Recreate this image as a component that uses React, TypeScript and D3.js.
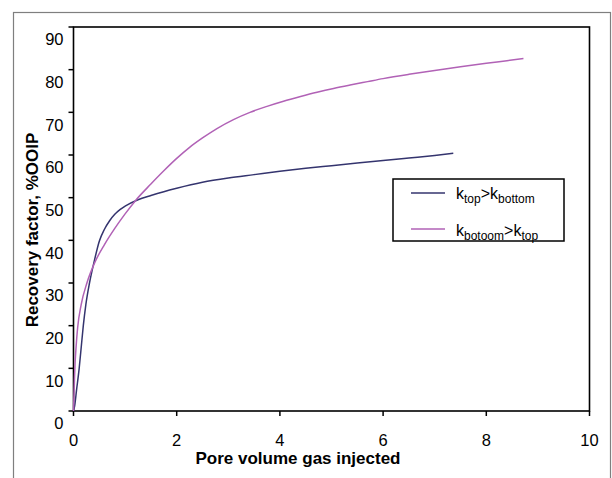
import React from 'react';
import * as d3 from 'd3';

// ---- data ----
const xTickValues = [0, 2, 4, 6, 8, 10];
const yTickValues = [0, 10, 20, 30, 40, 50, 60, 70, 80, 90];

const topPV = [0, 0.02, 0.06, 0.11, 0.15, 0.19, 0.24, 0.31, 0.4, 0.5, 0.6, 0.7, 0.8, 0.9, 1.0, 1.25, 1.5, 1.75, 2.0, 2.5, 3.0, 3.5, 4.0, 4.5, 5.0, 5.5, 6.0, 6.5, 7.0, 7.36];
const topRF = [0, 1, 5, 10, 15, 20, 25, 30, 35, 39.8, 42.6, 44.6, 46.1, 47.2, 48.0, 49.5, 50.5, 51.4, 52.2, 53.6, 54.6, 55.4, 56.2, 56.9, 57.5, 58.1, 58.7, 59.3, 59.9, 60.4];

const botPV = [0, 0.01, 0.02, 0.03, 0.05, 0.08, 0.15, 0.26, 0.42, 0.6, 0.8, 1.0, 1.2, 1.5, 1.75, 2.0, 2.25, 2.5, 2.78, 3.1, 3.42, 3.75, 4.07, 4.4, 4.72, 5.04, 5.36, 5.7, 6.0, 6.5, 7.0, 7.5, 8.0, 8.4, 8.72];
const botRF = [0, 4, 8, 11, 15, 19.5, 25, 30, 35, 39, 42.8, 46.2, 49.3, 53.2, 56.3, 59.2, 61.8, 64.0, 66.2, 68.3, 70.0, 71.4, 72.6, 73.7, 74.7, 75.6, 76.4, 77.2, 77.9, 78.9, 79.8, 80.7, 81.5, 82.1, 82.6];

const xTitle = 'Pore volume gas injected';
const yTitle = 'Recovery factor, %OOIP';

const colorTop = '#34346e';
const colorBot = '#b162b6';

export default function App() {
  const W = 612, H = 478;
  const L = 73.5, R = 589.5, T = 27, B = 411;
  const x = d3.scaleLinear().domain([0, 10]).range([L, R]);
  const y = d3.scaleLinear().domain([0, 90]).range([B, T]);
  const line = d3
    .line<[number, number]>()
    .x((d) => x(d[0]))
    .y((d) => y(d[1]))
    .curve(d3.curveMonotoneX);
  const topData = topPV.map((v, i) => [v, topRF[i]] as [number, number]);
  const botData = botPV.map((v, i) => [v, botRF[i]] as [number, number]);
  const font = 'Liberation Sans, Arial, Helvetica, sans-serif';

  return (
    <svg width={W} height={H} style={{ position: 'absolute', left: 0, top: 0, background: '#fff' }} fontFamily={font}>
      <rect x={0} y={0} width={W} height={H} fill="#fff" />
      {/* outer chart frame */}
      <rect x={13.5} y={12.5} width={597} height={520} fill="none" stroke="#7f7f7f" strokeWidth={1.2} />
      {/* plot area border */}
      <rect x={L} y={T} width={R - L} height={B - T} fill="none" stroke="#000" strokeWidth={1.6} />
      {/* y ticks */}
      {yTickValues.map((v) => (
        <g key={'y' + v}>
          <line x1={L - 5} x2={L} y1={y(v)} y2={y(v)} stroke="#000" strokeWidth={1.5} />
          <text x={63.5} y={y(v) + 12.5} dy="0.35em" textAnchor="end" fontSize={16.5} fill="#000">
            {v}
          </text>
        </g>
      ))}
      {/* x ticks */}
      {xTickValues.map((v) => (
        <g key={'x' + v}>
          <line x1={x(v)} x2={x(v)} y1={B} y2={B + 5} stroke="#000" strokeWidth={1.5} />
          <text x={x(v)} y={440.5} dy="0.35em" textAnchor="middle" fontSize={16.5} fill="#000">
            {v}
          </text>
        </g>
      ))}
      {/* series */}
      <path d={line(topData) || ''} fill="none" stroke={colorTop} strokeWidth={1.5} />
      <path d={line(botData) || ''} fill="none" stroke={colorBot} strokeWidth={1.5} />
      {/* axis titles */}
      <text x={298} y={458} dy="0.35em" textAnchor="middle" fontSize={17} fontWeight="bold" fill="#000">
        {xTitle}
      </text>
      <text
        transform={`translate(32,230) rotate(-90)`}
        dy="0.35em"
        textAnchor="middle"
        fontSize={17}
        fontWeight="bold"
        fill="#000"
      >
        {yTitle}
      </text>
      {/* legend */}
      <rect x={393} y={179} width={171} height={62} fill="#fff" stroke="#000" strokeWidth={1.5} />
      <line x1={411} x2={445} y1={193} y2={193} stroke={colorTop} strokeWidth={1.5} />
      <line x1={411} x2={445} y1={229} y2={229} stroke={colorBot} strokeWidth={1.5} />
      <text x={456} y={199} fontSize={16} fill="#000">
        k<tspan fontSize={12} dy={4}>top</tspan>
        <tspan fontSize={16} dy={-4}>&gt;k</tspan>
        <tspan fontSize={12} dy={4}>bottom</tspan>
      </text>
      <text x={456} y={235.5} fontSize={16} fill="#000">
        k<tspan fontSize={12} dy={4}>botoom</tspan>
        <tspan fontSize={16} dy={-4}>&gt;k</tspan>
        <tspan fontSize={12} dy={4}>top</tspan>
      </text>
    </svg>
  );
}
